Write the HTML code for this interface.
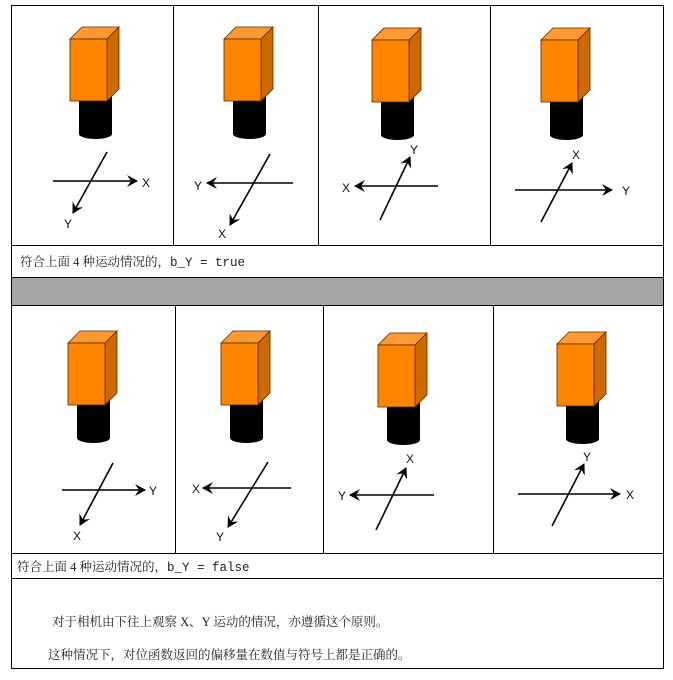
<!DOCTYPE html>
<html><head><meta charset="utf-8"><style>
html,body{margin:0;padding:0;background:#fff;}
svg{display:block;}
text{font-family:"Liberation Sans",sans-serif;}
.cn{font-family:"Liberation Serif","Noto Serif CJK SC","Noto Sans CJK SC",serif;font-size:12.5px;fill:#222;}
.mono{font-family:"Liberation Mono","Noto Sans CJK SC",monospace;}
</style></head><body>
<svg width="673" height="680" viewBox="0 0 673 680" xmlns="http://www.w3.org/2000/svg">
<defs>
<marker id="ah" viewBox="0 0 12 12" refX="10" refY="6" markerWidth="12" markerHeight="12" markerUnits="userSpaceOnUse" orient="auto">
<path d="M0,0 L11,6 L0,12 L4,6 Z" fill="#000"/>
</marker>
<g id="cam">
<rect x="9" y="55" width="33" height="40" fill="#000"/>
<ellipse cx="25.5" cy="95" rx="16.5" ry="5" fill="#000"/>
<polygon points="0,0 12,-12 49,-12 37,0" fill="#ff9a33" stroke="#5a2a00" stroke-width="0.8"/>
<polygon points="37,0 49,-12 49,50 37,62" fill="#cc6a00" stroke="#5a2a00" stroke-width="0.8"/>
<rect x="0" y="0" width="37" height="62" fill="#ff8500" stroke="#5a2a00" stroke-width="0.8"/>
</g>
</defs>
<rect x="0" y="0" width="673" height="680" fill="#fff"/>
<rect x="11" y="277" width="653" height="28" fill="#a6a6a6"/>
<g stroke="#000" stroke-width="1" fill="none">
<rect x="11.5" y="5.5" width="652" height="663"/>
<line x1="11" y1="245.5" x2="664" y2="245.5"/>
<line x1="11" y1="277.5" x2="664" y2="277.5"/>
<line x1="11" y1="305.5" x2="664" y2="305.5"/>
<line x1="11" y1="553.5" x2="664" y2="553.5"/>
<line x1="11" y1="578.5" x2="664" y2="578.5"/>
<line x1="173.5" y1="5" x2="173.5" y2="245"/>
<line x1="318.5" y1="5" x2="318.5" y2="245"/>
<line x1="490.5" y1="5" x2="490.5" y2="245"/>
<line x1="175.5" y1="305" x2="175.5" y2="553"/>
<line x1="323.5" y1="305" x2="323.5" y2="553"/>
<line x1="493.5" y1="305" x2="493.5" y2="553"/>
</g>
<use href="#cam" x="70" y="39"/>
<use href="#cam" x="224" y="39"/>
<use href="#cam" x="372" y="40"/>
<use href="#cam" x="541" y="40"/>
<use href="#cam" x="68" y="343"/>
<use href="#cam" x="221" y="343"/>
<use href="#cam" x="378" y="345"/>
<use href="#cam" x="557" y="344"/>
<g stroke="#000" stroke-width="1.6" marker-end="url(#ah)">
<line x1="53" y1="181" x2="137" y2="181"/>
<line x1="107" y1="152" x2="73" y2="213"/>
<line x1="293" y1="183" x2="207" y2="183"/>
<line x1="270" y1="154" x2="230" y2="225"/>
<line x1="438" y1="186" x2="355" y2="186"/>
<line x1="380" y1="220" x2="410" y2="157"/>
<line x1="515" y1="190" x2="612" y2="190"/>
<line x1="541" y1="222" x2="572" y2="163"/>
<line x1="62" y1="490" x2="145" y2="490"/>
<line x1="113" y1="463" x2="80" y2="525"/>
<line x1="291" y1="488" x2="203" y2="488"/>
<line x1="268" y1="462" x2="228" y2="527"/>
<line x1="434" y1="495" x2="350" y2="495"/>
<line x1="376" y1="530" x2="406" y2="468"/>
<line x1="518" y1="494" x2="620" y2="494"/>
<line x1="552" y1="526" x2="584" y2="464"/>
</g>
<g font-size="12" fill="#111" text-anchor="middle">
<text x="146" y="187">X</text><text x="68" y="228">Y</text>
<text x="198" y="190">Y</text><text x="222" y="238">X</text>
<text x="346" y="192">X</text><text x="414" y="154">Y</text>
<text x="626" y="195">Y</text><text x="576" y="159">X</text>
<text x="153" y="495">Y</text><text x="77" y="540">X</text>
<text x="196" y="493">X</text><text x="220" y="541">Y</text>
<text x="342" y="500">Y</text><text x="410" y="463">X</text>
<text x="630" y="499">X</text><text x="587" y="461">Y</text>
</g>
<text class="cn" x="20" y="266">符合上面 4 种运动情况的，<tspan class="mono">b_Y = true</tspan></text>
<text class="cn" x="17" y="571">符合上面 4 种运动情况的，<tspan class="mono">b_Y = false</tspan></text>
<text class="cn" x="52" y="626">对于相机由下往上观察 X、Y 运动的情况，亦遵循这个原则。</text>
<text class="cn" x="48" y="659">这种情况下，对位函数返回的偏移量在数值与符号上都是正确的。</text>
</svg>
</body></html>
